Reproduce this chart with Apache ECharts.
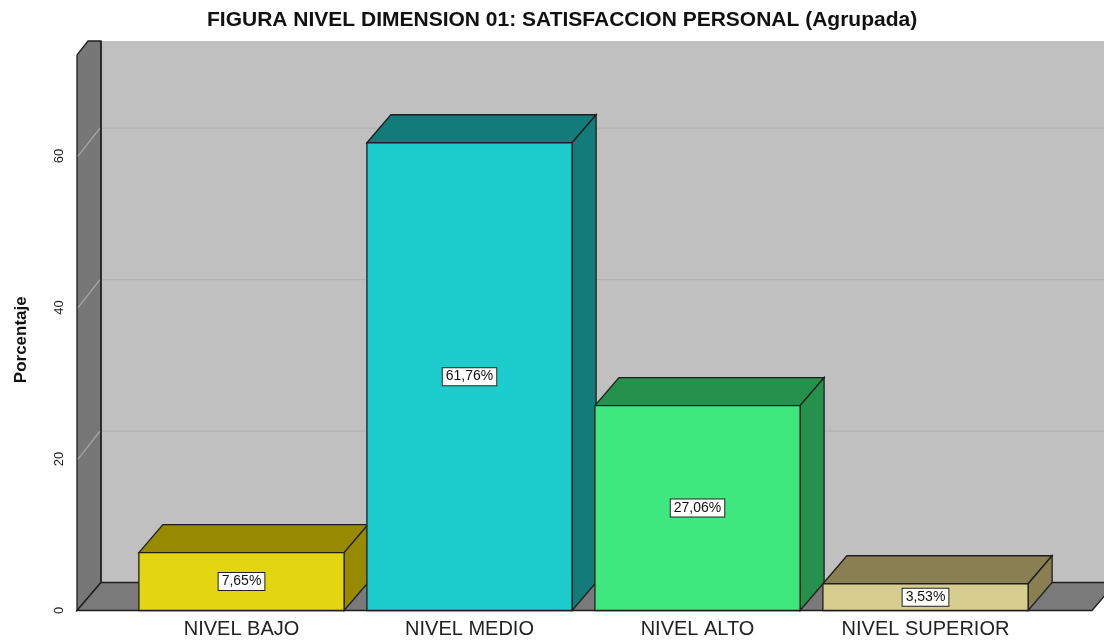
<!DOCTYPE html>
<html>
<head>
<meta charset="utf-8">
<script src="https://cdn.jsdelivr.net/npm/echarts@6/dist/echarts.min.js"></script>
<style>
html,body{margin:0;padding:0;background:#fff;}
#chart{width:1104px;height:641px;}
</style>
</head>
<body>
<div id="chart"></div>
<script>
// ---- data ----
var categories = ['NIVEL BAJO', 'NIVEL MEDIO', 'NIVEL ALTO', 'NIVEL SUPERIOR'];
var percentages = [7.65, 61.76, 27.06, 3.53];
var yTicks = [0, 20, 40, 60];
var titleText = 'FIGURA NIVEL DIMENSION 01: SATISFACCION PERSONAL (Agrupada)';
var yAxisName = 'Porcentaje';

// ---- styles ----
var frontColors = ['#e4d511', '#1dcdcd', '#3fe87e', '#d6cd8e'];
var darkColors  = ['#978a00', '#147b7b', '#25914d', '#8a7f52'];
var DX = 24, DY = -28;
var EDGE = '#1e1e1e';

var chart = echarts.init(document.getElementById('chart'));

function fmt(v) { return v.toFixed(2).replace('.', ',') + '%'; }

function renderBackground(params, api) {
  var cs = params.coordSys;
  var y0 = api.coord([0, 0])[1];
  var yTop = api.coord([0, 71.5])[1];
  var xf = cs.x - 50.5;          // front-left edge of left wall
  var xb = xf + DX;              // back-left edge
  var xfr = cs.x + cs.width + 52.5; // floor front-right
  var children = [];
  // back wall
  children.push({type: 'rect', shape: {x: xb, y: yTop + DY, width: xfr + DX - xb, height: y0 - yTop}, style: {fill: '#c0c0c0'}});
  // left wall
  children.push({type: 'polygon', shape: {points: [[xf, y0], [xf, yTop + DY + 14], [xf + 11, yTop + DY], [xb, yTop + DY], [xb, y0 + DY]]},
    style: {fill: '#777777', stroke: EDGE, lineWidth: 1.3}});
  // floor
  children.push({type: 'polygon', shape: {points: [[xf, y0], [xb, y0 + DY], [xfr + DX, y0 + DY], [xfr, y0]]},
    style: {fill: '#7a7a7a', stroke: EDGE, lineWidth: 1.3}});
  // grid lines
  for (var i = 0; i < yTicks.length; i++) {
    if (yTicks[i] === 0) continue;
    var y = api.coord([0, yTicks[i]])[1];
    children.push({type: 'line', shape: {x1: xb + 1, y1: y + DY, x2: xfr + DX, y2: y + DY}, style: {stroke: '#b2b2b2', lineWidth: 1.2}});
    children.push({type: 'line', shape: {x1: xf + 1, y1: y, x2: xb - 1, y2: y + DY}, style: {stroke: '#a9a9a9', lineWidth: 1.2}});
  }
  // redraw the back edge line of the left wall
  children.push({type: 'line', shape: {x1: xb, y1: yTop + DY, x2: xb, y2: y0 + DY}, style: {stroke: EDGE, lineWidth: 1.3}});
  return {type: 'group', children: children};
}

function renderBar(params, api) {
  var idx = api.value(0);
  var val = api.value(1);
  var base = api.coord([idx, 0]);
  var top = api.coord([idx, val]);
  var bw = api.size([1, 0])[0] * 0.9;
  var xl = base[0] - bw / 2, xr = base[0] + bw / 2;
  var y0 = base[1], yt = top[1];
  var front = frontColors[idx], dark = darkColors[idx];
  var lw = 1.3;
  return {
    type: 'group',
    children: [
      {type: 'polygon', shape: {points: [[xl, yt], [xl + DX, yt + DY], [xr + DX, yt + DY], [xr, yt]]},
        style: {fill: dark, stroke: EDGE, lineWidth: lw}},
      {type: 'polygon', shape: {points: [[xr, yt], [xr + DX, yt + DY], [xr + DX, y0 + DY], [xr, y0]]},
        style: {fill: dark, stroke: EDGE, lineWidth: lw}},
      {type: 'rect', shape: {x: xl, y: yt, width: bw, height: y0 - yt},
        style: {fill: front, stroke: EDGE, lineWidth: lw}},
      {type: 'text', x: base[0], y: (y0 + yt) / 2,
        style: {text: fmt(val), fill: '#111', font: '14px "Liberation Sans", Arial, sans-serif',
          align: 'center', verticalAlign: 'middle', backgroundColor: '#ffffff',
          borderColor: '#222', borderWidth: 1, padding: [2, 3, 1, 3]}}
    ]
  };
}

var option = {
  animation: false,
  backgroundColor: '#ffffff',
  title: {
    text: titleText, left: 207, top: 10, padding: 0,
    textStyle: {fontFamily: '"Liberation Sans", Arial, sans-serif', fontSize: 21, fontWeight: 'bold', color: '#111'}
  },
  grid: {left: 127.5, right: 64.5, top: 69, bottom: 30.5, containLabel: false},
  xAxis: {
    type: 'category', data: categories,
    axisLine: {show: false}, axisTick: {show: false}, splitLine: {show: false},
    axisLabel: {fontFamily: '"Liberation Sans", Arial, sans-serif', fontSize: 20, color: '#222', margin: 9}
  },
  yAxis: {
    type: 'value', min: 0, max: 71.5, interval: 20, offset: 50.5,
    name: yAxisName, nameLocation: 'middle', nameGap: 47, nameRotate: 90,
    nameTextStyle: {fontFamily: '"Liberation Sans", Arial, sans-serif', fontSize: 17, fontWeight: 'bold', color: '#111'},
    axisLine: {show: false}, axisTick: {show: false}, splitLine: {show: false},
    axisLabel: {rotate: 90, showMaxLabel: false, fontFamily: '"Liberation Sans", Arial, sans-serif', fontSize: 13, color: '#222', margin: 11}
  },
  series: [
    {type: 'custom', z: 1, silent: true, renderItem: renderBackground, data: [[0, 0]]},
    {type: 'custom', z: 2, renderItem: renderBar,
      data: percentages.map(function (v, i) { return [i, v]; })}
  ]
};
chart.setOption(option);
</script>
</body>
</html>
